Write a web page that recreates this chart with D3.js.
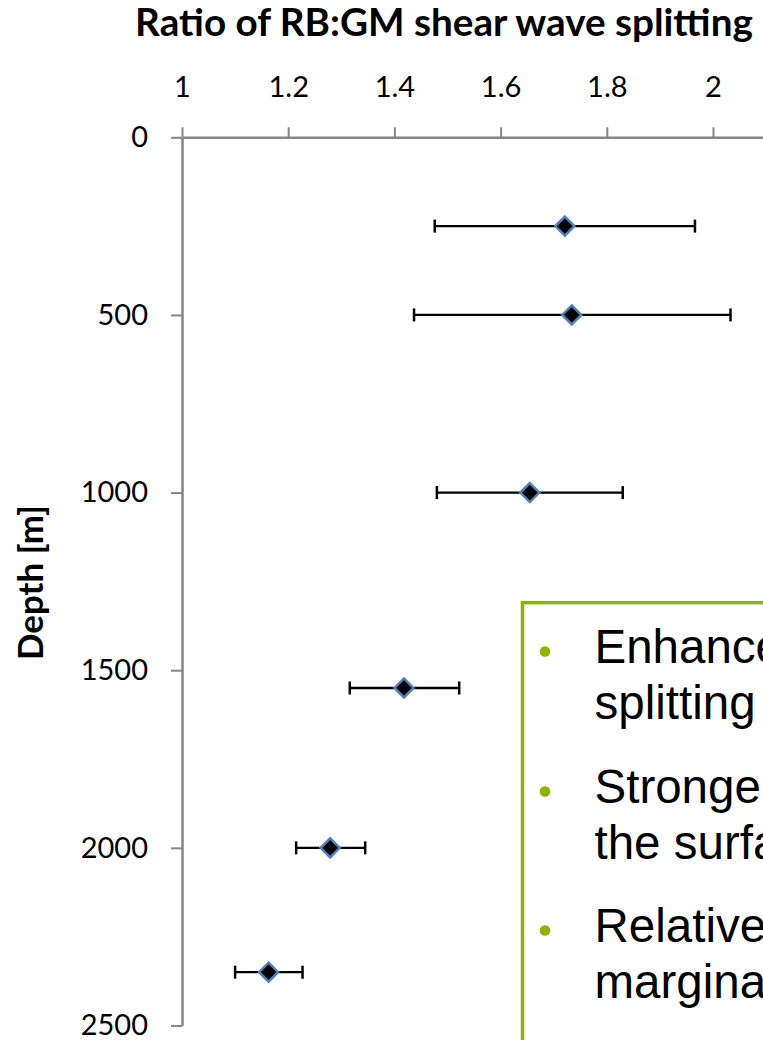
<!DOCTYPE html>
<html>
<head>
<meta charset="utf-8">
<script src="https://cdn.jsdelivr.net/npm/d3@7"></script>
<style>
  html, body { margin: 0; padding: 0; background: #fff; }
  svg { display: block; }
</style>
</head>
<body>
<svg id="chart"></svg>
<script>
// Data
const depths = [250, 500, 1000, 1550, 2000, 2350];
const ratios = [1.721, 1.734, 1.655, 1.418, 1.279, 1.163];
const ratioLow = [1.476, 1.437, 1.480, 1.316, 1.215, 1.100];
const ratioHigh = [1.966, 2.033, 1.830, 1.522, 1.345, 1.227];

const xTicks = [1, 1.2, 1.4, 1.6, 1.8, 2];
const yTicks = [0, 500, 1000, 1500, 2000, 2500];

const titleText = 'Ratio of RB:GM shear wave splitting';
const yLabelText = 'Depth [m]';
const bullets = [
  ['Enhanced', 'splitting'],
  ['Stronger', 'the surface'],
  ['Relative', 'marginal']
];

const width = 763, height = 1040;
const axisColor = '#868686';
const green = '#8cb400';

const svg = d3.select('#chart')
  .attr('width', width)
  .attr('height', height)
  .style('background', '#fff');

// scales: ratio along the top, depth going down
const x = d3.scaleLinear().domain([1, 2.2]).range([182, 182 + 1.2 * 531]);
const y = d3.scaleLinear().domain([0, 2500]).range([137.3, 1025.5]);

// title, sized to its width in the picture
const title = svg.append('text')
  .attr('x', 444)
  .attr('y', 36)
  .attr('text-anchor', 'middle')
  .style('font-family', 'Lato, sans-serif')
  .style('font-weight', 'bold')
  .style('font-size', '30px')
  .text(titleText);
const tl = title.node().getComputedTextLength();
title.style('font-size', (30 * 618 / tl) + 'px');

// top axis
const xAxis = svg.append('g')
  .attr('transform', `translate(0,${y(0)})`)
  .call(d3.axisTop(x).tickValues(xTicks).tickSize(10).tickSizeOuter(0).tickPadding(30)
    .tickFormat(d => d3.format('')(d)));

// left axis
const yAxis = svg.append('g')
  .attr('transform', `translate(${x(1)},0)`)
  .call(d3.axisLeft(y).tickValues(yTicks).tickSize(11).tickSizeOuter(0).tickPadding(23)
    .tickFormat(d3.format('d')));

[xAxis, yAxis].forEach(g => {
  g.select('.domain').attr('stroke', axisColor).attr('stroke-width', 2.5);
  g.selectAll('.tick line').attr('stroke', axisColor).attr('stroke-width', 2);
  g.selectAll('.tick text')
    .attr('fill', '#000')
    .style('font-family', 'Lato, sans-serif')
    .style('font-size', '29px');
});

// y axis label
const yLabel = svg.append('text')
  .attr('transform', 'translate(43,582.5) rotate(-90)')
  .attr('text-anchor', 'middle')
  .style('font-family', 'Lato, sans-serif')
  .style('font-weight', 'bold')
  .style('font-size', '30px')
  .text(yLabelText);
const yl = yLabel.node().getComputedTextLength();
yLabel.style('font-size', (30 * 155 / yl) + 'px');

// error bars
const pts = depths.map((d, i) => ({ depth: d, ratio: ratios[i], lo: ratioLow[i], hi: ratioHigh[i] }));
const capH = 6.5;

const bars = svg.append('g').attr('stroke', '#000').attr('stroke-width', 2.3);
bars.selectAll('.bar')
  .data(pts)
  .enter()
  .append('line')
  .attr('x1', d => x(d.lo))
  .attr('x2', d => x(d.hi))
  .attr('y1', d => y(d.depth))
  .attr('y2', d => y(d.depth));
bars.selectAll('.capLo')
  .data(pts)
  .enter()
  .append('line')
  .attr('stroke-width', 2.5)
  .attr('x1', d => x(d.lo))
  .attr('x2', d => x(d.lo))
  .attr('y1', d => y(d.depth) - capH)
  .attr('y2', d => y(d.depth) + capH);
bars.selectAll('.capHi')
  .data(pts)
  .enter()
  .append('line')
  .attr('stroke-width', 2.5)
  .attr('x1', d => x(d.hi))
  .attr('x2', d => x(d.hi))
  .attr('y1', d => y(d.depth) - capH)
  .attr('y2', d => y(d.depth) + capH);

// diamond markers
const r = 9.5;
svg.append('g').selectAll('path')
  .data(pts)
  .enter()
  .append('path')
  .attr('transform', d => `translate(${x(d.ratio)},${y(d.depth)})`)
  .attr('d', `M0,${-r}L${r},0L0,${r}L${-r},0Z`)
  .attr('fill', '#000')
  .attr('stroke', '#4f81bd')
  .attr('stroke-width', 2.5);

// text box on the lower right
const box = svg.append('g');
box.append('rect')
  .attr('x', 522.5)
  .attr('y', 602.7)
  .attr('width', 400)
  .attr('height', 500)
  .attr('fill', '#fff')
  .attr('stroke', green)
  .attr('stroke-width', 3.5);

const firstBaselines = [662.5, 802.5, 941.5];
const lineGap = 56;
bullets.forEach((lines, i) => {
  box.append('circle')
    .attr('cx', 545)
    .attr('cy', firstBaselines[i] - 11)
    .attr('r', 5.3)
    .attr('fill', green);
  lines.forEach((t, j) => {
    box.append('text')
      .attr('x', 594.5)
      .attr('y', firstBaselines[i] + j * lineGap)
      .style('font-family', '"Liberation Sans", Arial, sans-serif')
      .style('font-size', '47.5px')
      .attr('fill', '#000')
      .text(t);
  });
});
</script>
</body>
</html>
